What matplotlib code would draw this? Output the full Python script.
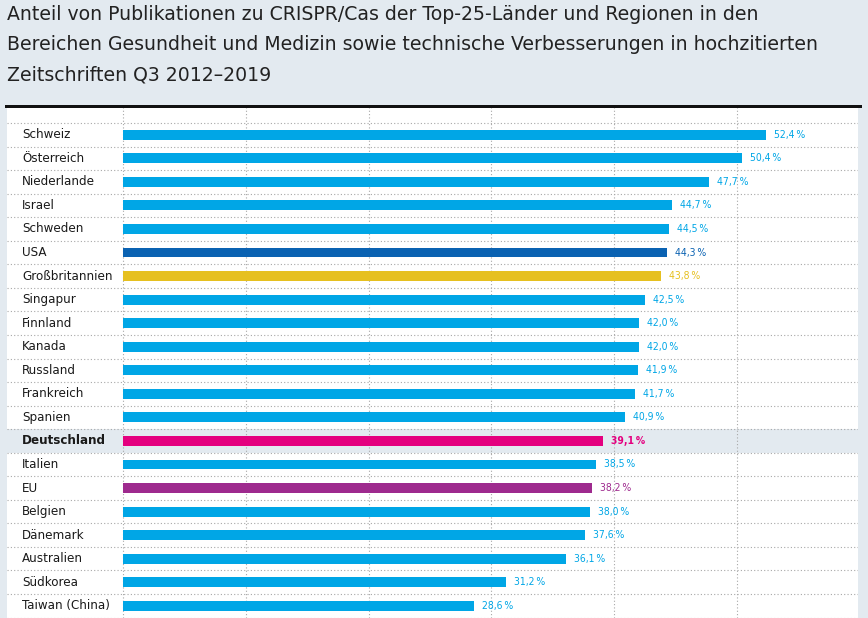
import matplotlib
matplotlib.use("Agg")
import matplotlib.pyplot as plt
from matplotlib.patches import Rectangle
import matplotlib.transforms as mtransforms

FONT = ['DejaVu Sans']
STRETCH = 'condensed'

countries = ["Schweiz", "Österreich", "Niederlande", "Israel", "Schweden", "USA",
             "Großbritannien", "Singapur", "Finnland", "Kanada", "Russland",
             "Frankreich", "Spanien", "Deutschland", "Italien", "EU", "Belgien",
             "Dänemark", "Australien", "Südkorea", "Taiwan (China)"]
values = [52.4, 50.4, 47.7, 44.7, 44.5, 44.3, 43.8, 42.5, 42.0, 42.0, 41.9,
          41.7, 40.9, 39.1, 38.5, 38.2, 38.0, 37.6, 36.1, 31.2, 28.6]
gridticks = [0, 10, 20, 30, 40, 50]

title = ("Anteil von Publikationen zu CRISPR/Cas der Top-25-Länder und Regionen in den\n"
         "Bereichen Gesundheit und Medizin sowie technische Verbesserungen in hochzitierten\n"
         "Zeitschriften Q3 2012–2019")

BLUE = "#00a6e6"
special = {"USA": "#0a62b2", "Großbritannien": "#e6c020",
           "Deutschland": "#e4007f", "EU": "#9e2a8e"}
BG = "#e3eaf0"

W, H = 868, 618
fig = plt.figure(figsize=(W / 100, H / 100), dpi=100, facecolor=BG)

left, right, top, bottom = 7, 858, 107, 618
ax = fig.add_axes([left / W, 1 - bottom / H, (right - left) / W, (bottom - top) / H])
ax.set_facecolor("white")
for s in ax.spines.values():
    s.set_visible(False)
ax.set_xticks([])
ax.set_yticks([])

px_per_unit = 12.28
x0 = 123
ax.set_xlim((left - x0) / px_per_unit, (right - x0) / px_per_unit)
row = 23.55
first_sep = 123
ax.set_ylim(-0.5 + (bottom - first_sep) / row, -0.5 - (first_sep - top) / row)

n = len(countries)
xmin, xmax = ax.get_xlim()

di = countries.index("Deutschland")
ax.add_patch(Rectangle((xmin, di - 0.5), xmax - xmin, 1.0, facecolor=BG,
                       edgecolor="none", zorder=0))

for i in range(n + 1):
    ax.axhline(i - 0.5, color="#a8a8a8", lw=0.8, ls=(0, (1, 2)), zorder=1)
for g in gridticks:
    ax.axvline(g, color="#a8a8a8", lw=0.8, ls=(0, (1, 2)), zorder=1)

ypos = list(range(n))
colors = [special.get(c, BLUE) for c in countries]
ax.barh(ypos, values, height=0.42, color=colors, zorder=2)

lab_tr = mtransforms.blended_transform_factory(ax.transAxes, ax.transData)
for i, (c, v, col) in enumerate(zip(countries, values, colors)):
    bold = c == "Deutschland"
    ax.text((22 - left) / (right - left), i, c, transform=lab_tr, va="center",
            ha="left", fontsize=9.5, color="#1a1a1a", family=FONT, fontstretch=STRETCH,
            fontweight="bold" if bold else "normal")
    lbl = f"{v:.1f}".replace(".", ",") + "\u2009%"
    ax.text(v + 8 / px_per_unit, i, lbl, va="center", ha="left", fontsize=7.5,
            color=col, family=FONT, fontstretch=STRETCH,
            fontweight="bold" if bold else "normal")

fig.add_artist(Rectangle((5 / W, 1 - 107.5 / H), (862 - 5) / W, 3 / H,
                         transform=fig.transFigure, facecolor="#111111",
                         edgecolor="none"))

fig.text(7 / W, 1 - 5.5 / H, title, ha="left", va="top", fontsize=13.6,
         color="#222222", family=FONT, linespacing=1.72)

fig.savefig("out.png", dpi=100, facecolor=BG)
